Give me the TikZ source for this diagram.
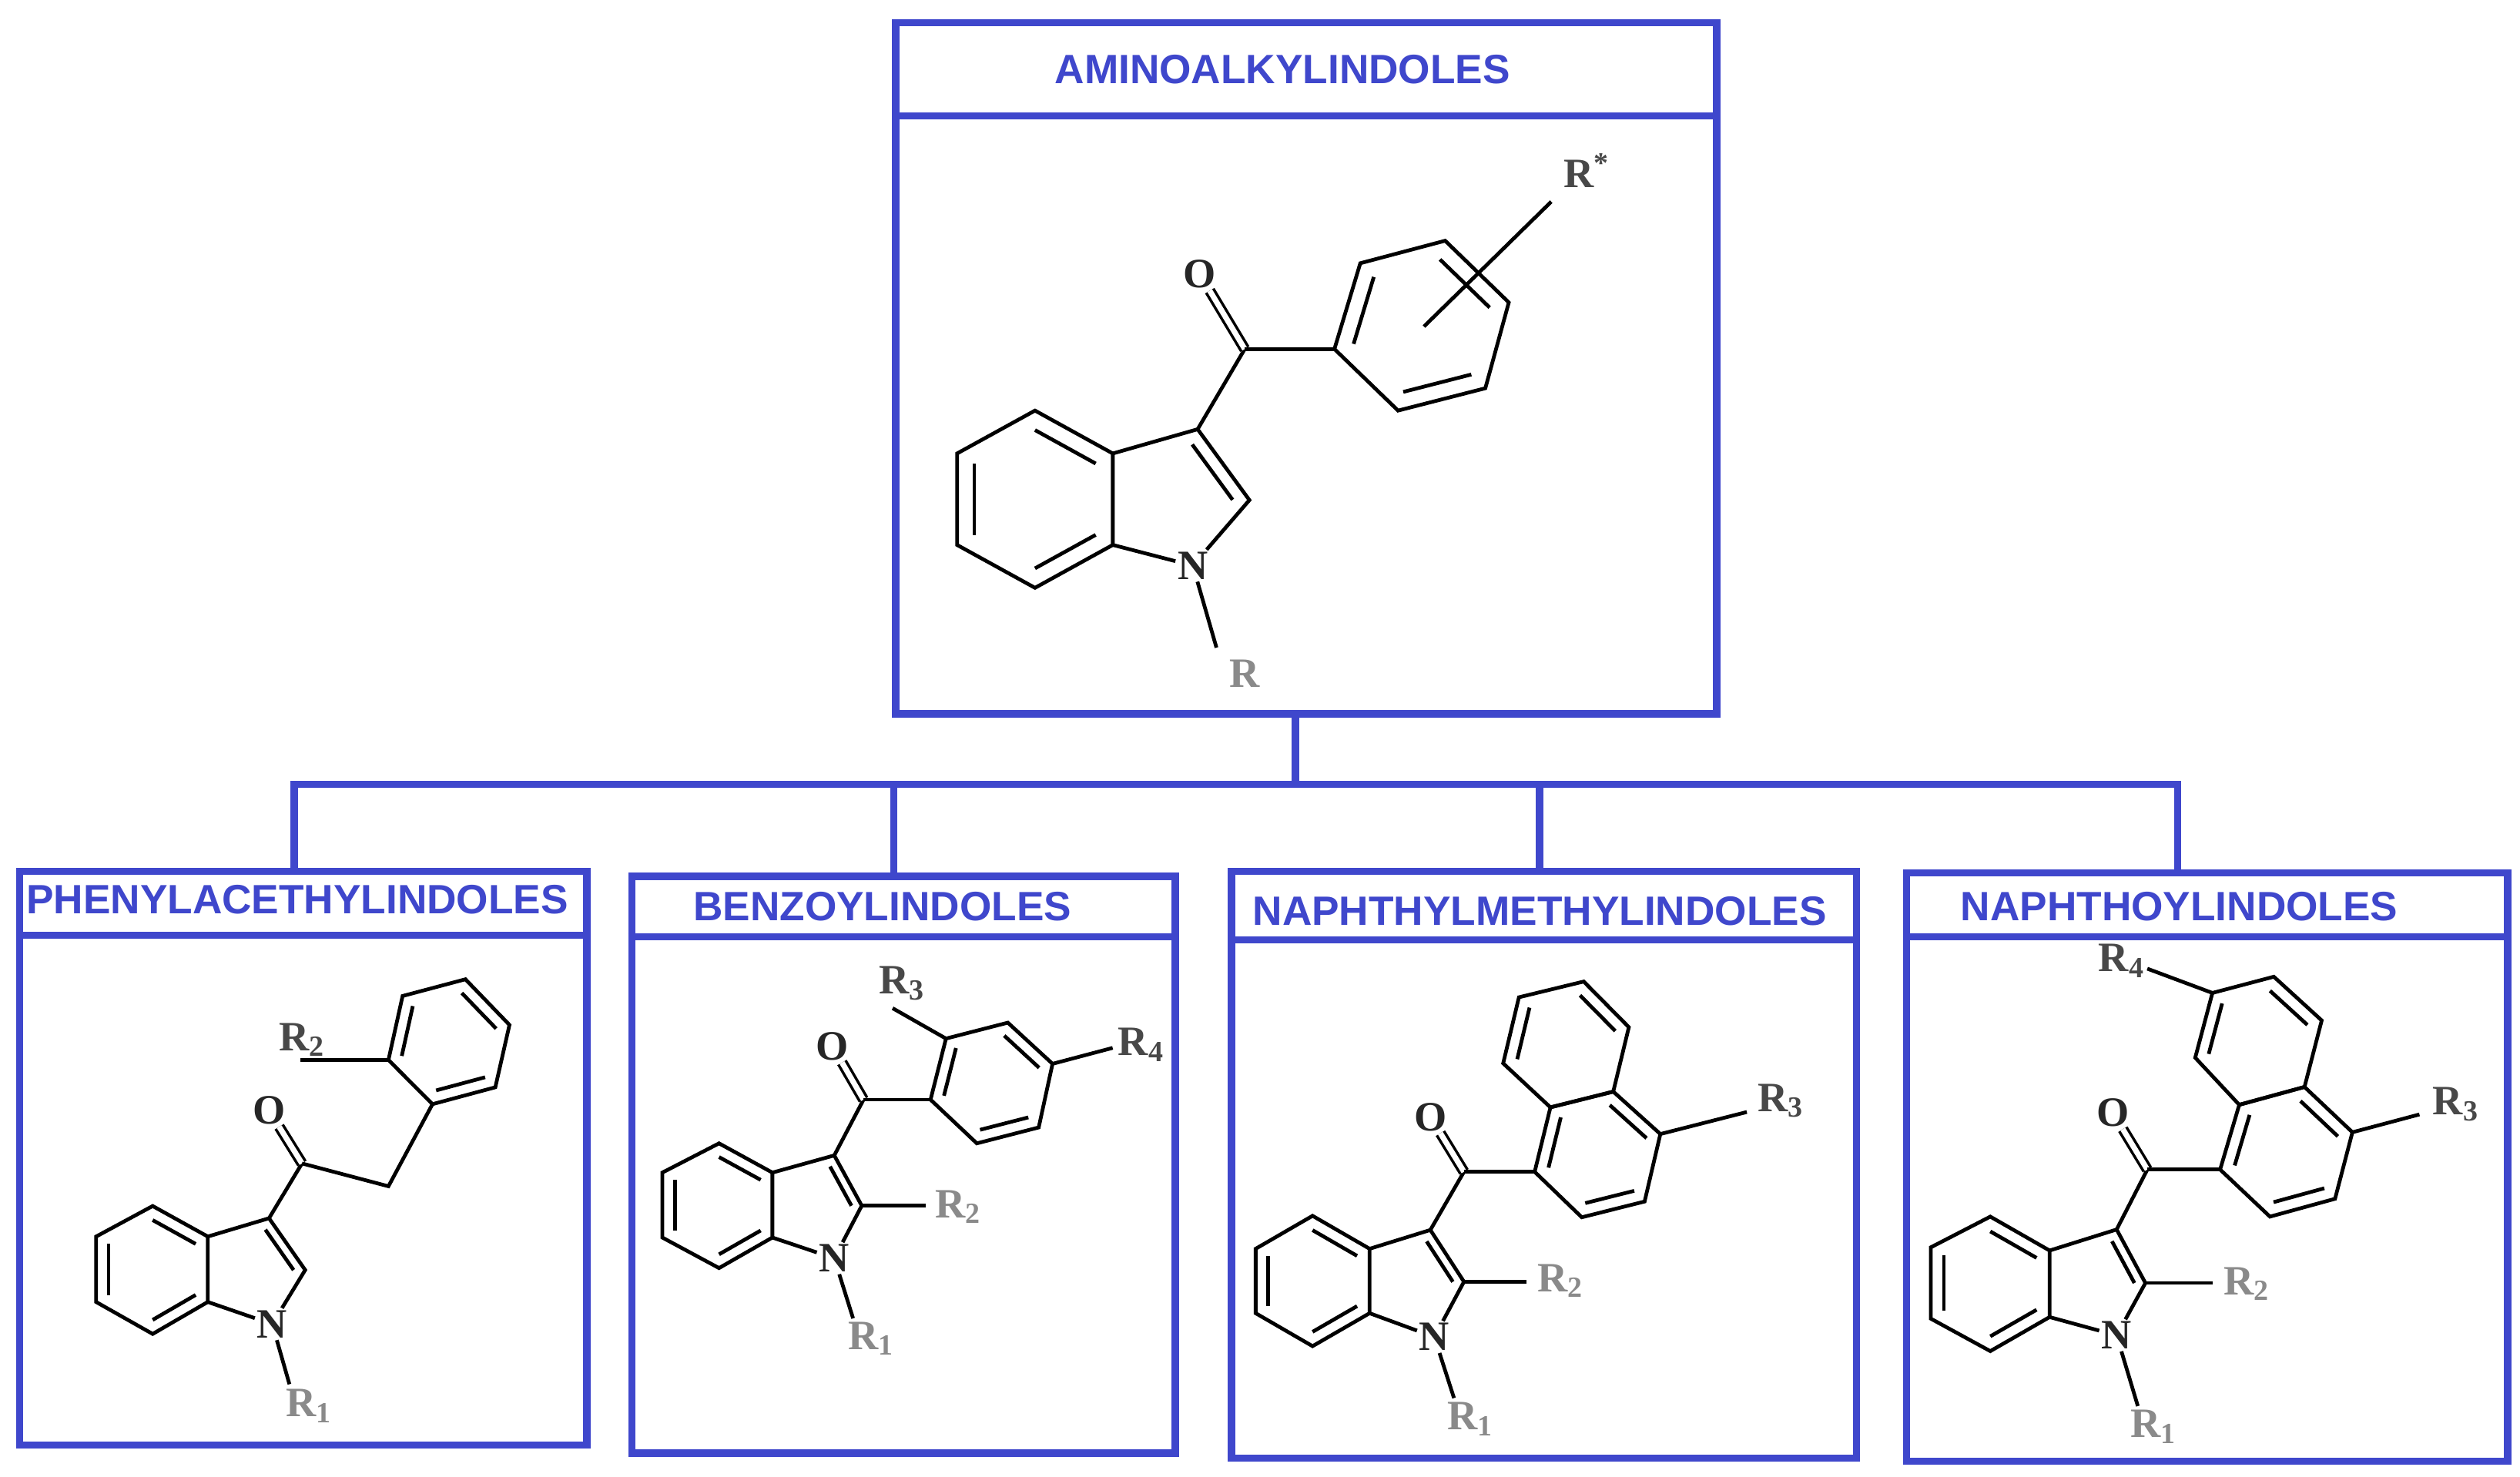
\documentclass[tikz,border=0pt]{standalone}
\usepackage{fontspec}
\setmainfont{Liberation Serif}
\newfontfamily\titlefont{Liberation Sans}
\usetikzlibrary{calc}
\definecolor{bx}{HTML}{3F47CC}
\definecolor{lg}{HTML}{8A8A8A}
\definecolor{dg}{HTML}{484848}
\newcommand\inl[3]{\draw ($(#3)!0.78!(#1)$)--($(#3)!0.78!(#2)$);}
\newcommand\indoledraw[1]{%
 \coordinate (#1-bc) at ($(#1-b1)!0.5!(#1-b4)$);
 \coordinate (#1-pc) at ($0.2*(#1-b2)+0.2*(#1-b3)+0.2*(#1-C3)+0.2*(#1-C2)+0.2*(#1-N)$);
 \draw (#1-b1)--(#1-b2)--(#1-b3)--(#1-b4)--(#1-b5)--(#1-b6)--cycle;
 \inl{#1-b5}{#1-b6}{#1-bc}\inl{#1-b1}{#1-b2}{#1-bc}\inl{#1-b3}{#1-b4}{#1-bc}
 \draw (#1-b2)--(#1-C3)--(#1-C2)--(#1-N)--(#1-b3);
 \inl{#1-C3}{#1-C2}{#1-pc}}
\newcommand\ringdraw[7]{%
 \coordinate (#7) at ($(#1)!0.5!(#4)$);
 \draw (#1)--(#2)--(#3)--(#4)--(#5)--(#6)--cycle;}
\tikzset{
 box/.style={draw=bx,line width=4.5pt},
 ttl/.style={text=bx,font=\titlefont\bfseries\fontsize{25.5}{25.5}\selectfont},
 con/.style={draw=bx,line width=4.5pt},
 atom/.style={font=\bfseries\fontsize{26}{26}\selectfont,inner sep=0.3pt,text=black!85},
 lab/.style={font=\bfseries\fontsize{26}{26}\selectfont,inner sep=0pt},
 co/.style={double,double distance=3.4pt,line width=1.7pt},
}
\begin{document}
\begin{tikzpicture}[x=1pt,y=-1pt,line width=2.3pt,line join=miter]
\useasboundingbox (0,0) rectangle (1568,919);
% ---------- boxes ----------
\node[box,minimum width=511pt,minimum height=430pt,anchor=north west] (top) at (555,12) {};
\draw[box] (555,72) -- (1066,72);
\node[ttl] (ttop) at (798,43) {AMINOALKYLINDOLES};
\node[box,minimum width=353pt,minimum height=357pt,anchor=north west] (bA) at (10,540) {};
\draw[box] (10,582) -- (363,582);
\node[ttl] (tA) at (185,560) {PHENYLACETHYLINDOLES};
\node[box,minimum width=338pt,minimum height=359pt,anchor=north west] (bB) at (391,543) {};
\draw[box] (391,583) -- (729,583);
\node[ttl] (tB) at (549,564) {BENZOYLINDOLES};
\node[box,minimum width=389pt,minimum height=365pt,anchor=north west] (bC) at (764,540) {};
\draw[box] (764,585) -- (1153,585);
\node[ttl] (tC) at (958,567) {NAPHTHYLMETHYLINDOLES};
\node[box,minimum width=374pt,minimum height=366pt,anchor=north west] (bD) at (1184,541) {};
\draw[box] (1184,583) -- (1558,583);
\node[ttl] (tD) at (1356,564) {NAPHTHOYLINDOLES};
% connectors
\coordinate (j) at (806,488);
\draw[con] (top.south -| j) -- (j);
\draw[con] (bA.north -| 183,0) |- (j) -| (bD.north -| 1355,0);
\draw[con] (bB.north -| 556,0) -- (556,488);
\draw[con] (bC.north -| 958,0) -- (958,488);
% ---------- top structure ----------
\coordinate (t-b1) at (644,255.5); \coordinate (t-b2) at (692.4,282.2);
\coordinate (t-b3) at (692.4,339.1); \coordinate (t-b4) at (644,365.8);
\coordinate (t-b5) at (595.5,339.1); \coordinate (t-b6) at (595.5,282.2);
\coordinate (t-C3) at (745.2,267.1); \coordinate (t-C2) at (777.4,311.2);
\node[atom] (t-N) at (742.2,352) {N};
\indoledraw{t}
\coordinate (t-Re) at (756.9,403);
\draw (t-N) -- (t-Re);
\node[lab,text=lg] (t-R) at (774.5,419) {R};
\coordinate (t-Cc) at (774.5,217.2);
\node[atom] (t-O) at (746.6,170.7) {O};
\draw (t-C3) -- (t-Cc);
\draw[co] (t-Cc) -- (t-O);
\coordinate (t-p1) at (830.3,217.2); \coordinate (t-p2) at (869.9,255.5);
\coordinate (t-p3) at (924.2,241.6); \coordinate (t-p4) at (938.8,188.2);
\coordinate (t-p5) at (899.2,149.8); \coordinate (t-p6) at (846.4,163.8);
\ringdraw{t-p1}{t-p2}{t-p3}{t-p4}{t-p5}{t-p6}{t-pcn}
\inl{t-p6}{t-p1}{t-pcn}\inl{t-p4}{t-p5}{t-pcn}\inl{t-p2}{t-p3}{t-pcn}
\draw (t-Cc) -- (t-p1);
\coordinate (t-Rs1) at (886,203.2); \coordinate (t-Rs2) at (965.2,125.5);
\draw (t-Rs1) -- (t-Rs2);
\node[lab,text=dg] (t-Rs) at (987,106) {R\textsuperscript{*}};
% ---------- box A ----------
\coordinate (a-b1) at (95,750.5); \coordinate (a-b2) at (129.3,769.5);
\coordinate (a-b3) at (129.3,810.2); \coordinate (a-b4) at (95,830.1);
\coordinate (a-b5) at (59.8,810.2); \coordinate (a-b6) at (59.8,769.5);
\coordinate (a-C3) at (167.4,758.1); \coordinate (a-C2) at (189.9,790.3);
\node[atom] (a-N) at (169.4,824) {N};
\indoledraw{a}
\coordinate (a-Re) at (180.1,861.4);
\draw (a-N) -- (a-Re);
\node[lab,text=lg] (a-R1) at (192,875) {R\textsubscript{1}};
\coordinate (a-Cc) at (187.9,724);
\node[atom] (a-O) at (167.4,691) {O};
\draw (a-C3) -- (a-Cc); \draw[co] (a-Cc) -- (a-O);
\coordinate (a-CH) at (241.7,738.2);
\coordinate (a-q1) at (269.1,687.1); \coordinate (a-q2) at (241.7,659.6);
\coordinate (a-q3) at (250.5,619.8); \coordinate (a-q4) at (289.6,609.4);
\coordinate (a-q5) at (317,637.8); \coordinate (a-q6) at (308.2,676.6);
\ringdraw{a-q1}{a-q2}{a-q3}{a-q4}{a-q5}{a-q6}{a-qc}
\inl{a-q2}{a-q3}{a-qc}\inl{a-q4}{a-q5}{a-qc}\inl{a-q6}{a-q1}{a-qc}
\draw (a-Cc) -- (a-CH) -- (a-q1);
\coordinate (a-R2e) at (187,659.6);
\draw (a-q2) -- (a-R2e);
\node[lab,text=dg] (a-R2) at (188,647) {R\textsubscript{2}};
% ---------- box B ----------
\coordinate (b-b1) at (447.4,711.5); \coordinate (b-b2) at (480.6,729.7);
\coordinate (b-b3) at (480.6,770.1); \coordinate (b-b4) at (447.4,789.1);
\coordinate (b-b5) at (412.1,770.1); \coordinate (b-b6) at (412.1,729.7);
\coordinate (b-C3) at (519.1,719); \coordinate (b-C2) at (536.2,750.3);
\node[atom] (b-N) at (519.1,783) {N};
\indoledraw{b}
\coordinate (b-R2e) at (575.8,750.3); \draw (b-C2) -- (b-R2e);
\node[lab,text=lg] (b-R2) at (596,751) {R\textsubscript{2}};
\coordinate (b-Re) at (530.8,820.4); \draw (b-N) -- (b-Re);
\node[lab,text=lg] (b-R1) at (542,833) {R\textsubscript{1}};
\coordinate (b-Cc) at (537.3,684.3);
\node[atom] (b-O) at (518,651) {O};
\draw (b-C3) -- (b-Cc); \draw[co] (b-Cc) -- (b-O);
\coordinate (b-r1) at (579,684.3); \coordinate (b-r2) at (607.8,711.5);
\coordinate (b-r3) at (646.3,701.6); \coordinate (b-r4) at (654.9,662);
\coordinate (b-r5) at (627.1,636.4); \coordinate (b-r6) at (588.6,646.3);
\ringdraw{b-r1}{b-r2}{b-r3}{b-r4}{b-r5}{b-r6}{b-rc}
\inl{b-r6}{b-r1}{b-rc}\inl{b-r5}{b-r4}{b-rc}\inl{b-r2}{b-r3}{b-rc}
\draw (b-Cc) -- (b-r1);
\coordinate (b-R3e) at (555.4,627.4); \draw (b-r6) -- (b-R3e);
\node[lab,text=dg] (b-R3) at (561,612) {R\textsubscript{3}};
\coordinate (b-R4e) at (692.3,652.1); \draw (b-r4) -- (b-R4e);
\node[lab,text=dg] (b-R4) at (710,650) {R\textsubscript{4}};
% ---------- box C ----------
\coordinate (c-b1) at (816.7,756.6); \coordinate (c-b2) at (852.2,777.1);
\coordinate (c-b3) at (852.2,817.2); \coordinate (c-b4) at (816.7,837.7);
\coordinate (c-b5) at (781.3,817.2); \coordinate (c-b6) at (781.3,777.1);
\coordinate (c-C3) at (890,765.4); \coordinate (c-C2) at (910.9,797.6);
\node[atom] (c-N) at (892.5,832) {N};
\indoledraw{c}
\coordinate (c-R2e) at (950,797.6); \draw (c-C2) -- (c-R2e);
\node[lab,text=lg] (c-R2) at (971,797) {R\textsubscript{2}};
\coordinate (c-Re) at (904.7,870); \draw (c-N) -- (c-Re);
\node[lab,text=lg] (c-R1) at (915,883) {R\textsubscript{1}};
\coordinate (c-Cc) at (910.9,729.2);
\node[atom] (c-O) at (890,695) {O};
\draw (c-C3) -- (c-Cc); \draw[co] (c-Cc) -- (c-O);
\coordinate (c-n1) at (954.9,729.2); \coordinate (c-n2) at (984.2,757.5);
\coordinate (c-n3) at (1023.3,747.7); \coordinate (c-n4) at (1033.1,705.7);
\coordinate (c-n4a) at (1003.8,679.3); \coordinate (c-n8a) at (964.7,689.1);
\coordinate (c-n8) at (935.3,661.7); \coordinate (c-n7) at (945.1,620.6);
\coordinate (c-n6) at (985.4,610.8); \coordinate (c-n5) at (1013.5,639.2);
\ringdraw{c-n1}{c-n2}{c-n3}{c-n4}{c-n4a}{c-n8a}{c-lc}
\ringdraw{c-n8a}{c-n8}{c-n7}{c-n6}{c-n5}{c-n4a}{c-uc}
\inl{c-n1}{c-n8a}{c-lc}\inl{c-n2}{c-n3}{c-lc}\inl{c-n4}{c-n4a}{c-lc}
\inl{c-n8}{c-n7}{c-uc}\inl{c-n6}{c-n5}{c-uc}
\draw (c-Cc) -- (c-n1);
\coordinate (c-R3e) at (1086.9,692); \draw (c-n4) -- (c-R3e);
\node[lab,text=dg] (c-R3) at (1108,685) {R\textsubscript{3}};
% ---------- box D ----------
\coordinate (d-b1) at (1238.4,757.1); \coordinate (d-b2) at (1275.3,778.2);
\coordinate (d-b3) at (1275.3,819.6); \coordinate (d-b4) at (1238.4,840.8);
\coordinate (d-b5) at (1201.4,820.6); \coordinate (d-b6) at (1201.4,776.2);
\coordinate (d-C3) at (1317,765.1); \coordinate (d-C2) at (1334.9,798.4);
\node[atom] (d-N) at (1317,831) {N};
\indoledraw{d}
\coordinate (d-R2e) at (1376.6,798.4); \draw (d-C2) -- (d-R2e);
\node[lab,text=lg] (d-R2) at (1398,799) {R\textsubscript{2}};
\coordinate (d-Re) at (1330.2,875); \draw (d-N) -- (d-Re);
\node[lab,text=lg] (d-R1) at (1340,888) {R\textsubscript{1}};
\coordinate (d-Cc) at (1336.1,727.8);
\node[atom] (d-O) at (1314.7,692.5) {O};
\draw (d-C3) -- (d-Cc); \draw[co] (d-Cc) -- (d-O);
\coordinate (d-m1) at (1381.4,727.8); \coordinate (d-m2) at (1412.4,757.1);
\coordinate (d-m3) at (1452.9,746); \coordinate (d-m4) at (1463.7,704.6);
\coordinate (d-m4a) at (1433.9,676.4); \coordinate (d-m8a) at (1393.3,687.5);
\coordinate (d-m8) at (1365.9,658.2); \coordinate (d-m7) at (1376.6,617.9);
\coordinate (d-m6) at (1414.8,607.8); \coordinate (d-m5) at (1444.6,635);
\ringdraw{d-m1}{d-m2}{d-m3}{d-m4}{d-m4a}{d-m8a}{d-lc}
\ringdraw{d-m8a}{d-m8}{d-m7}{d-m6}{d-m5}{d-m4a}{d-uc}
\inl{d-m1}{d-m8a}{d-lc}\inl{d-m2}{d-m3}{d-lc}\inl{d-m4}{d-m4a}{d-lc}
\inl{d-m8}{d-m7}{d-uc}\inl{d-m6}{d-m5}{d-uc}
\draw (d-Cc) -- (d-m1);
\coordinate (d-R4e) at (1336.1,602.8); \draw (d-m7) -- (d-R4e);
\node[lab,text=dg] (d-R4) at (1320,598) {R\textsubscript{4}};
\coordinate (d-R3e) at (1505.4,693.5); \draw (d-m4) -- (d-R3e);
\node[lab,text=dg] (d-R3) at (1528,687) {R\textsubscript{3}};
\end{tikzpicture}
\end{document}
